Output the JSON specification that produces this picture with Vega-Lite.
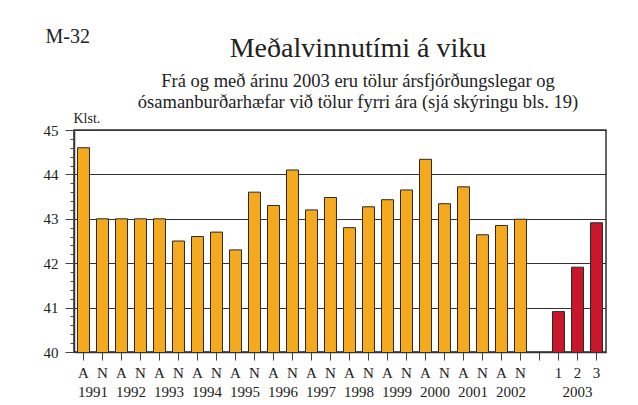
{
  "$schema": "https://vega.github.io/schema/vega-lite/v6.json",
  "width": 532,
  "height": 222,
  "autosize": {"type": "none"},
  "padding": {"left": 74, "top": 130, "right": 32, "bottom": 53},
  "background": "white",
  "config": {
    "font": "Liberation Serif",
    "view": {"stroke": "#333", "strokeWidth": 1.5},
    "axis": {"labelFont": "Liberation Serif", "titleFont": "Liberation Serif", "labelColor": "#222", "titleColor": "#222", "titleFontWeight": "normal"}
  },
  "title": {
    "text": "Meðalvinnutími á viku",
    "subtitle": ["Frá og með árinu 2003 eru tölur ársfjórðungslegar og", "ósamanburðarhæfar við tölur fyrri ára (sjá skýringu bls. 19)"],
    "anchor": "middle",
    "frame": "group",
    "font": "Liberation Serif",
    "fontSize": 28,
    "fontWeight": "normal",
    "color": "#222",
    "subtitleFont": "Liberation Serif",
    "subtitleFontSize": 18.5,
    "subtitleColor": "#222",
    "subtitleLineHeight": 21,
    "subtitlePadding": 9,
    "dx": 18,
    "offset": -85
  },
  "data": {
    "values": [
      {"id": "1991A", "lab": "A", "year": "1991", "period": "Ár", "value": 44.6},
      {"id": "1991N", "lab": "N", "year": "1991", "period": "Ár", "value": 43.0},
      {"id": "1992A", "lab": "A", "year": "1992", "period": "Ár", "value": 43.0},
      {"id": "1992N", "lab": "N", "year": "1992", "period": "Ár", "value": 43.0},
      {"id": "1993A", "lab": "A", "year": "1993", "period": "Ár", "value": 43.0},
      {"id": "1993N", "lab": "N", "year": "1993", "period": "Ár", "value": 42.5},
      {"id": "1994A", "lab": "A", "year": "1994", "period": "Ár", "value": 42.6},
      {"id": "1994N", "lab": "N", "year": "1994", "period": "Ár", "value": 42.7},
      {"id": "1995A", "lab": "A", "year": "1995", "period": "Ár", "value": 42.3},
      {"id": "1995N", "lab": "N", "year": "1995", "period": "Ár", "value": 43.6},
      {"id": "1996A", "lab": "A", "year": "1996", "period": "Ár", "value": 43.3},
      {"id": "1996N", "lab": "N", "year": "1996", "period": "Ár", "value": 44.1},
      {"id": "1997A", "lab": "A", "year": "1997", "period": "Ár", "value": 43.2},
      {"id": "1997N", "lab": "N", "year": "1997", "period": "Ár", "value": 43.48},
      {"id": "1998A", "lab": "A", "year": "1998", "period": "Ár", "value": 42.8},
      {"id": "1998N", "lab": "N", "year": "1998", "period": "Ár", "value": 43.27},
      {"id": "1999A", "lab": "A", "year": "1999", "period": "Ár", "value": 43.43},
      {"id": "1999N", "lab": "N", "year": "1999", "period": "Ár", "value": 43.65},
      {"id": "2000A", "lab": "A", "year": "2000", "period": "Ár", "value": 44.34},
      {"id": "2000N", "lab": "N", "year": "2000", "period": "Ár", "value": 43.34},
      {"id": "2001A", "lab": "A", "year": "2001", "period": "Ár", "value": 43.72},
      {"id": "2001N", "lab": "N", "year": "2001", "period": "Ár", "value": 42.64},
      {"id": "2002A", "lab": "A", "year": "2002", "period": "Ár", "value": 42.85},
      {"id": "2002N", "lab": "N", "year": "2002", "period": "Ár", "value": 42.99},
      {"id": "2003-1", "lab": "1", "year": "2003", "period": "Ársfjórðungur", "value": 40.91},
      {"id": "2003-2", "lab": "2", "year": "2003", "period": "Ársfjórðungur", "value": 41.91},
      {"id": "2003-3", "lab": "3", "year": "2003", "period": "Ársfjórðungur", "value": 42.91}
    ]
  },
  "layer": [
    {
      "mark": {"type": "bar", "stroke": "#2a2a2a", "strokeWidth": 1, "clip": true},
      "encoding": {
        "x": {
          "field": "id",
          "type": "nominal",
          "sort": null,
          "scale": {
            "domain": ["1991A","1991N","1992A","1992N","1993A","1993N","1994A","1994N","1995A","1995N","1996A","1996N","1997A","1997N","1998A","1998N","1999A","1999N","2000A","2000N","2001A","2001N","2002A","2002N","gap","2003-1","2003-2","2003-3"],
            "paddingInner": 0.37,
            "paddingOuter": 0.185
          },
          "axis": {
            "orient": "bottom",
            "title": null,
            "labelAngle": 0,
            "labelExpr": "datum.value == 'gap' ? '' : slice(datum.value, -1)",
            "labelFontSize": 15,
            "labelPadding": 5,
            "labelOverlap": false,
            "tickSize": 8,
            "tickColor": "#444",
            "domainColor": "#333",
            "domainWidth": 1.5,
            "grid": false
          }
        },
        "y": {
          "field": "value",
          "type": "quantitative",
          "scale": {"domain": [40, 45], "zero": false, "nice": false},
          "axis": {
            "orient": "left",
            "values": [40, 41, 42, 43, 44, 45],
            "grid": true,
            "gridColor": "#333",
            "gridWidth": 1.2,
            "gridOpacity": 1,
            "tickSize": 9,
            "tickColor": "#444",
            "domainColor": "#333",
            "domainWidth": 1.5,
            "labelFontSize": 15,
            "labelPadding": 7,
            "title": "Klst.",
            "titleFontSize": 14,
            "titleAngle": 0,
            "titleAlign": "left",
            "titleBaseline": "alphabetic",
            "titleX": -1,
            "titleY": -8
          }
        },
        "color": {
          "field": "period",
          "type": "nominal",
          "scale": {"domain": ["Ár", "Ársfjórðungur"], "range": ["#F5A91E", "#C8172B"]},
          "legend": null
        }
      }
    },
    {
      "mark": {"type": "bar", "opacity": 0, "clip": true},
      "encoding": {
        "x": {
          "field": "id",
          "type": "nominal",
          "sort": null,
          "scale": {
            "domain": ["1991A","1991N","1992A","1992N","1993A","1993N","1994A","1994N","1995A","1995N","1996A","1996N","1997A","1997N","1998A","1998N","1999A","1999N","2000A","2000N","2001A","2001N","2002A","2002N","gap","2003-1","2003-2","2003-3"],
            "paddingInner": 0.37,
            "paddingOuter": 0.185
          },
          "axis": {
            "orient": "bottom",
            "title": null,
            "labelAngle": 0,
            "labelExpr": "slice(datum.value, 4, 5) == 'A' ? slice(datum.value, 0, 4) : (datum.value == '2003-2' ? '2003' : '')",
            "labelOffset": {"condition": {"test": "datum.value == '2003-2'", "value": 0}, "value": 9.5},
            "labelFontSize": 15,
            "labelPadding": 32,
            "labelOverlap": false,
            "ticks": false,
            "tickSize": 0,
            "domain": false,
            "grid": false
          }
        },
        "y": {
          "field": "value",
          "type": "quantitative",
          "scale": {"domain": [40, 45], "zero": false, "nice": false},
          "axis": {
            "orient": "left",
            "values": [40, 40.2, 40.4, 40.6, 40.8, 41, 41.2, 41.4, 41.6, 41.8, 42, 42.2, 42.4, 42.6, 42.8, 43, 43.2, 43.4, 43.6, 43.8, 44, 44.2, 44.4, 44.6, 44.8, 45],
            "labels": false,
            "grid": false,
            "domain": false,
            "tickSize": 4,
            "tickColor": "#444",
            "title": "M-32",
            "titleFontSize": 20,
            "titleAngle": 0,
            "titleAlign": "left",
            "titleBaseline": "alphabetic",
            "titleX": -29,
            "titleY": -88
          }
        }
      }
    }
  ],
  "resolve": {"axis": {"x": "independent", "y": "independent"}}
}
